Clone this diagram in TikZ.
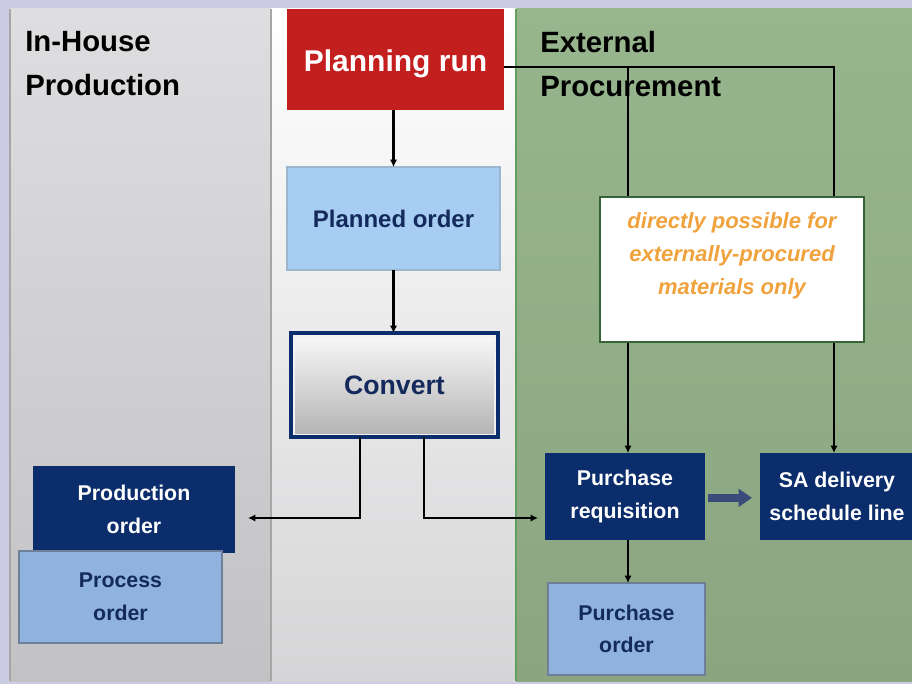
\documentclass[tikz,border=0pt]{standalone}
\usepackage{fontspec}
\setmainfont{Liberation Sans}
\usetikzlibrary{arrows.meta}

\definecolor{framelav}{HTML}{CBCBE4}
\definecolor{lefttop}{HTML}{DEDEE1}
\definecolor{leftbot}{HTML}{C2C2C5}
\definecolor{midbot}{HTML}{D5D5D7}
\definecolor{greentop}{HTML}{97B68D}
\definecolor{greenbot}{HTML}{8BA581}
\definecolor{sapred}{HTML}{C41F1F}
\definecolor{paleblue}{HTML}{A8CDF3}
\definecolor{midblue}{HTML}{8FB3DE}
\definecolor{boxedge}{HTML}{6E7F99}
\definecolor{navy}{HTML}{0B2D6B}
\definecolor{inknavy}{HTML}{142A5C}
\definecolor{noteorange}{HTML}{F0A23C}
\definecolor{linkgray}{HTML}{3A4D7A}

\begin{document}
\begin{tikzpicture}[x=0.75pt,y=-0.75pt,
  box/.style={inner sep=0pt, outer sep=0pt, align=center,
    font=\bfseries\fontsize{16}{24.5}\selectfont},
  darkbox/.style={box, fill=navy, text=white},
  lightbox/.style={box, fill=midblue, draw=boxedge, line width=0.8pt, text=inknavy},
  title/.style={anchor=north west, inner sep=0pt, align=left,
    font=\bfseries\fontsize{22}{33}\selectfont},
  arr/.style={draw=black, line width=1.6pt, -{Latex[length=5.5pt,width=5.5pt]}},
  fat/.style={draw=linkgray, line width=6pt, -{Triangle[length=10pt,width=13pt]}},
  button/.style={box, draw=navy, line width=3pt, fill=white!90!gray,
    path picture={\shade[top color=white!96!gray, middle color=gray!22, bottom color=gray!60]
      ([shift={(3pt,-4pt)}]path picture bounding box.north west) rectangle
      ([shift={(-3pt,3pt)}]path picture bounding box.south east);}}
]
\useasboundingbox (0,0) rectangle (912,684);

% frame and the three lanes
\fill[framelav] (0,0) rectangle (912,684);
\shade[top color=lefttop, bottom color=leftbot] (10,9) rectangle (271,681);
\shade[top color=white, bottom color=midbot] (271,9) rectangle (516,681);
\shade[top color=greentop, bottom color=greenbot] (516,9) rectangle (912,681);
\draw[gray!70, line width=0.8pt] (10,9) -- (10,681);
\draw[gray!70, line width=0.8pt] (271,9) -- (271,681);
\draw[green!25!gray, line width=1pt] (516,9) -- (516,681);

% lane titles
\node[title] (inhouse) at (25,31) {In-House\\Production};
\node[title] (external) at (540,31) {External\\Procurement};

% process boxes
\node[box, fill=sapred, text=white, minimum width=162.75pt, minimum height=75.75pt,
  font=\bfseries\fontsize{22.5}{26}\selectfont] (plan) at (395.5,59.5)
  {\raisebox{-3.5pt}[\height][\depth]{Planning run}};
\node[box, fill=paleblue, draw=paleblue!70!gray, line width=0.8pt, text=inknavy,
  minimum width=159.75pt, minimum height=77.25pt,
  font=\bfseries\fontsize{18}{22}\selectfont] (planned) at (393.5,218.5) {Planned order};
\node[button, text=inknavy, minimum width=155.25pt, minimum height=78pt,
  font=\bfseries\fontsize{20}{24}\selectfont] (convert) at (394.5,385) {Convert};

\node[darkbox, minimum width=151.5pt, minimum height=65.25pt] (prodord) at (134,509.5) {Production\\order};
\node[lightbox, minimum width=152.25pt, minimum height=69pt] (procord) at (120.5,597) {Process\\order};
\node[darkbox, minimum width=120pt, minimum height=65.25pt] (preq) at (625,496.5) {Purchase\\requisition};
\node[darkbox, minimum width=115.5pt, minimum height=65.25pt] (sadl) at (837,496.5) {SA delivery\\schedule line};
\node[lightbox, minimum width=117.75pt, minimum height=69pt] (pord) at (626.5,629) {Purchase\\order};

% bend points and free arrow ends
\coordinate (tr) at (834,67);
\coordinate (jn) at (628,67);
\coordinate (cl) at (360,518);
\coordinate (cr) at (424,518);
\coordinate (pe) at (248,518);
\coordinate (qe) at (538,518);

% connectors
\draw[arr] (plan.south -| planned.north) -- (planned.north);
\draw[arr] (planned.south) -- (planned.south |- convert.north);
\draw[arr] (plan.east |- tr) -- (tr) -- (tr |- sadl.north);
\draw[arr] (jn) -- (jn |- preq.north);
\draw[arr] (cl |- convert.south) -- (cl) -- (pe);
\draw[arr] (cr |- convert.south) -- (cr) -- (qe);
\draw[arr] (preq.south -| jn) -- (pord.north -| jn);
\draw[fat] ([xshift=2.25pt,yshift=-1pt]preq.east) -- ([xshift=-6pt,yshift=-1pt]sadl.west);

% note covering the two branch lines
\node[draw=gray!70!green!60!black, fill=white, line width=0.8pt, inner sep=0pt,
  minimum width=198pt, minimum height=108.75pt] (note) at (732,269.5) {};
\node[text=noteorange, align=center,
  font=\bfseries\itshape\fontsize{16.5}{24.75}\selectfont] (notetext) at (732,256)
  {directly possible for\\externally-procured\\materials only};
\end{tikzpicture}
\end{document}
